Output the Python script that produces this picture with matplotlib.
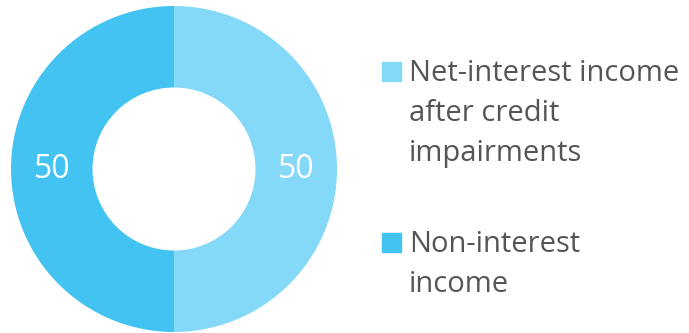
import numpy as np
import matplotlib.pyplot as plt

# Income split shown as a two-part donut
labels = ["Net-interest income\nafter credit\nimpairments", "Non-interest\nincome"]
shares = [50, 50]
colors = ["#84d8f8", "#42c3f2"]

W, H = 689, 333
fig = plt.figure(figsize=(W / 100, H / 100), dpi=100)

# donut centre (174, 169) px from top-left, outer radius 163 px
cx, cy, r = 174, 169, 163
ax = fig.add_axes([(cx - r) / W, (H - cy - r) / H, 2 * r / W, 2 * r / H])
wedges, _ = ax.pie(shares, colors=colors, startangle=90, counterclock=False,
                   radius=1.0, wedgeprops=dict(width=0.5, linewidth=0))
ax.set_xlim(-1, 1)
ax.set_ylim(-1, 1)
ax.set_aspect("equal")
ax.axis("off")

# value labels in the middle of the ring
for w, v in zip(wedges, shares):
    ang = np.deg2rad((w.theta1 + w.theta2) / 2)
    ax.text(0.75 * np.cos(ang), 0.75 * np.sin(ang) - 0.005, f"{v}", color="white",
            ha="center", va="center", fontsize=23, family="Open Sans")

# legend: square marker plus wrapped label lines
sq = 19
first_line = [81, 252]
for lab, col, base in zip(labels, colors, first_line):
    fig.patches.append(plt.Rectangle((382 / W, (H - base) / H), sq / W, sq / H,
                                     transform=fig.transFigure, color=col,
                                     figure=fig))
    for i, line in enumerate(lab.split("\n")):
        fig.text(409 / W, (H - base - 40 * i) / H, line, color="#555555",
                 fontsize=21, family="Open Sans", va="baseline", ha="left")

fig.savefig("out.png", dpi=100, facecolor="white")
